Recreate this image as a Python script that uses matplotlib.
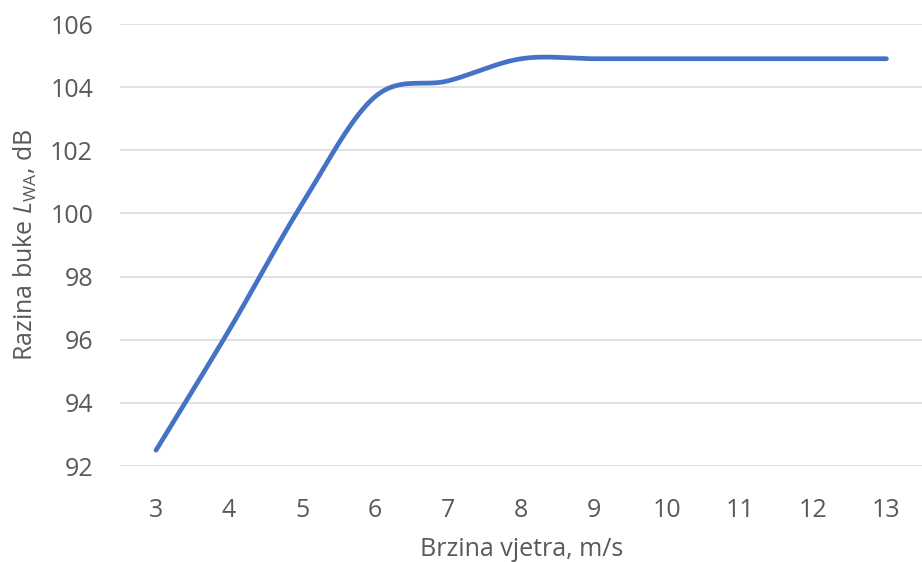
import numpy as np
import matplotlib
matplotlib.use('agg')
import matplotlib.pyplot as plt

# wind speed (m/s) and sound power level (dB)
brzina = [3, 4, 5, 6, 7, 8, 9, 10, 11, 12, 13]
razina = [92.5, 96.3, 100.3, 103.7, 104.2, 104.9, 104.9, 104.9, 104.9, 104.9, 104.9]
y_ticks = [92, 94, 96, 98, 100, 102, 104, 106]

plt.rcParams['font.family'] = ['Open Sans', 'DejaVu Sans']
plt.rcParams['mathtext.fontset'] = 'custom'
plt.rcParams['mathtext.rm'] = 'Open Sans'
plt.rcParams['mathtext.it'] = 'Open Sans:italic'

grey = '#595959'


# Excel-style smoothed line: cubic bezier through points
def smooth(xs, ys, n=40):
	xs = np.asarray(xs, float)
	ys = np.asarray(ys, float)
	px, py = [], []
	for i in range(len(xs) - 1):
		i0 = max(i - 1, 0)
		i3 = min(i + 2, len(xs) - 1)
		c1x = xs[i] + (xs[i + 1] - xs[i0]) / 6
		c1y = ys[i] + (ys[i + 1] - ys[i0]) / 6
		c2x = xs[i + 1] - (xs[i3] - xs[i]) / 6
		c2y = ys[i + 1] - (ys[i3] - ys[i]) / 6
		t = np.linspace(0, 1, n)
		px.extend((1-t)**3*xs[i] + 3*(1-t)**2*t*c1x + 3*(1-t)*t**2*c2x + t**3*xs[i+1])
		py.extend((1-t)**3*ys[i] + 3*(1-t)**2*t*c1y + 3*(1-t)*t**2*c2y + t**3*ys[i+1])
	return px, py


fig = plt.figure(figsize=(9.22, 5.62), dpi=100)
ax = fig.add_axes([119.5/922, 1 - 466/562, (923 - 119.5)/922, (466 - 24)/562])

sx, sy = smooth(brzina, razina)
ax.plot(sx, sy, color='#4472C4', linewidth=3.4, solid_capstyle='round', zorder=3)

ax.set_xlim(2.5, 13.5)
ax.set_ylim(92, 106)
ax.set_xticks(brzina)
ax.set_yticks(y_ticks)
ax.yaxis.grid(True, color='#D9D9D9', linewidth=1.1)
ax.set_axisbelow(True)
for s in ax.spines.values():
	s.set_visible(False)
ax.tick_params(length=0, labelsize=18, colors=grey)
ax.tick_params(axis='x', pad=23)
ax.tick_params(axis='y', pad=19)
ax.set_xlabel('Brzina vjetra, m/s', color=grey, fontsize=18, labelpad=10)
ax.set_ylabel(r'Razina buke $\mathit{L}_{\mathrm{WA}}$, dB', color=grey, fontsize=18, labelpad=8)

fig.savefig('out.png', dpi=100)
